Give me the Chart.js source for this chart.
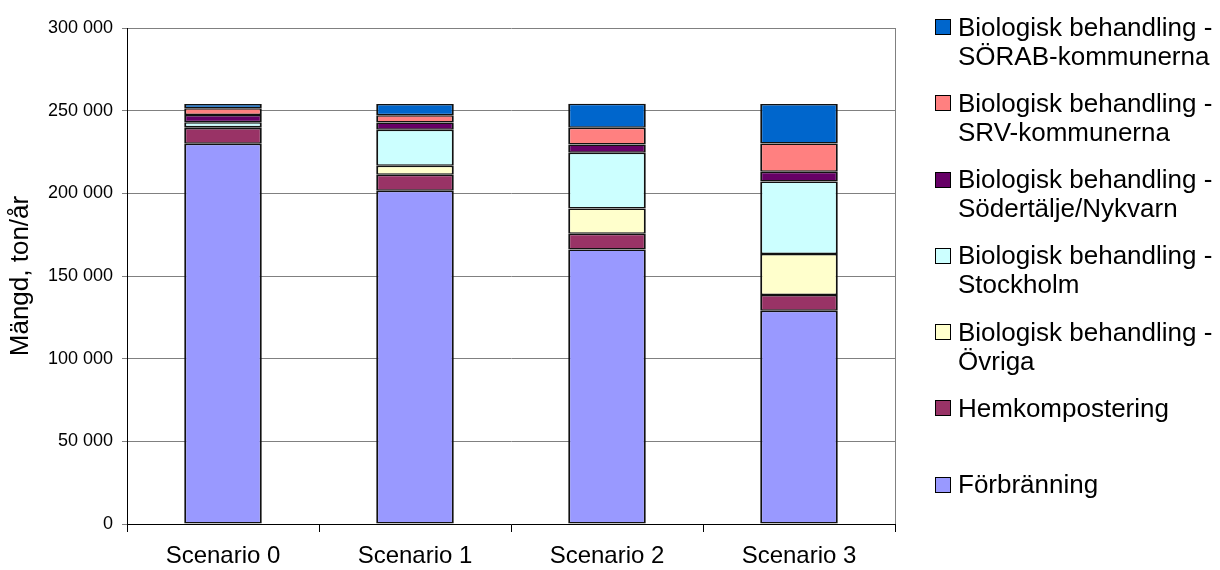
<!DOCTYPE html>
<html>
<head>
<meta charset="utf-8">
<script src="https://cdn.jsdelivr.net/npm/chart.js@4/dist/chart.umd.min.js"></script>
<style>
  body { margin: 0; background: #fff; font-family: 'Liberation Sans', Arial, sans-serif; }
  #wrap { position: relative; width: 1220px; height: 570px; }
  #legend { position: absolute; left: 935px; top: 19px; }
  .item { position: relative; height: 76.3px; }
  .sw { position: absolute; left: 0; top: 0; width: 14px; height: 14px; border: 1px solid #000; }
  .txt { position: absolute; left: 23px; top: -6.5px; font-size: 26px; line-height: 29px; color: #000; white-space: nowrap; }
</style>
</head>
<body>
<div id="wrap">
  <canvas id="chart" width="1220" height="570"></canvas>
  <div id="legend"></div>
</div>
<script>
const categories = ['Scenario 0', 'Scenario 1', 'Scenario 2', 'Scenario 3'];

// ton/år per scenario, bottom of stack first
const forbranning = [230000, 201500, 166000, 129000];
const hemkompostering = [9500, 9700, 9500, 9500];
const ovriga = [500, 5500, 15300, 24800];
const stockholm = [3000, 21800, 33700, 43800];
const sodertalje = [4400, 4400, 5000, 6000];
const srv = [4000, 4400, 10100, 17100];
const sorab = [2700, 6700, 14600, 23800];

const seriesNames = [
  'Förbränning',
  'Hemkompostering',
  'Biologisk behandling -\nÖvriga',
  'Biologisk behandling -\nStockholm',
  'Biologisk behandling -\nSödertälje/Nykvarn',
  'Biologisk behandling -\nSRV-kommunerna',
  'Biologisk behandling -\nSÖRAB-kommunerna'
];
const seriesValues = [forbranning, hemkompostering, ovriga, stockholm, sodertalje, srv, sorab];
const seriesColors = ['#9999FF', '#993366', '#FFFFCC', '#CCFFFF', '#660066', '#FF8080', '#0066CC'];

const FONT = "'Liberation Sans', Arial, sans-serif";

function fmt(v) {
  return String(v).replace(/\B(?=(\d{3})+(?!\d))/g, ' ');
}

// draws the gray right edge of the plot area
const plotFrame = {
  id: 'plotFrame',
  afterDraw(chart) {
    const { ctx, chartArea } = chart;
    ctx.save();
    ctx.strokeStyle = '#808080';
    ctx.lineWidth = 1;
    ctx.beginPath();
    ctx.moveTo(Math.round(chartArea.right) + 0.5, chartArea.top);
    ctx.lineTo(Math.round(chartArea.right) + 0.5, chartArea.bottom);
    ctx.stroke();
    ctx.restore();
  }
};

const datasets = seriesValues.map((data, i) => ({
  label: seriesNames[i],
  data,
  backgroundColor: seriesColors[i],
  borderColor: '#111',
  borderWidth: { top: 1.5, bottom: 1.5, left: 2, right: 2 },
  borderSkipped: false,
  inflateAmount: 0,
  categoryPercentage: 1,
  barPercentage: 0.404
}));

new Chart(document.getElementById('chart'), {
  type: 'bar',
  data: { labels: categories, datasets },
  options: {
    responsive: false,
    animation: false,
    layout: { padding: { left: 0, top: 28, right: 325, bottom: 0 } },
    plugins: { legend: { display: false }, tooltip: { enabled: false } },
    scales: {
      x: {
        stacked: true,
        afterFit(scale) { scale.height = 46; },
        grid: { drawOnChartArea: false, offset: true, tickLength: 8, color: '#000' },
        border: { color: '#000', width: 1 },
        ticks: { color: '#000', padding: 10, font: { family: FONT, size: 24 } }
      },
      y: {
        stacked: true,
        min: 0,
        max: 300000,
        afterFit(scale) { scale.width = 127; },
        grid: { color: '#808080', tickLength: 5 },
        border: { color: '#000', width: 1 },
        ticks: {
          stepSize: 50000,
          color: '#000',
          padding: 9,
          font: { family: FONT, size: 18 },
          callback: v => fmt(v)
        },
        title: {
          display: true,
          text: 'Mängd, ton/år',
          color: '#000',
          padding: { top: 5, bottom: 0 },
          font: { family: FONT, size: 26 }
        }
      }
    }
  },
  plugins: [plotFrame]
});

// legend, top of stack first
const legend = document.getElementById('legend');
for (let i = seriesNames.length - 1; i >= 0; i--) {
  const item = document.createElement('div');
  item.className = 'item';
  const sw = document.createElement('div');
  sw.className = 'sw';
  sw.style.background = seriesColors[i];
  const txt = document.createElement('div');
  txt.className = 'txt';
  seriesNames[i].split('\n').forEach((line, k) => {
    if (k > 0) txt.appendChild(document.createElement('br'));
    txt.appendChild(document.createTextNode(line));
  });
  item.appendChild(sw);
  item.appendChild(txt);
  legend.appendChild(item);
}
</script>
</body>
</html>
